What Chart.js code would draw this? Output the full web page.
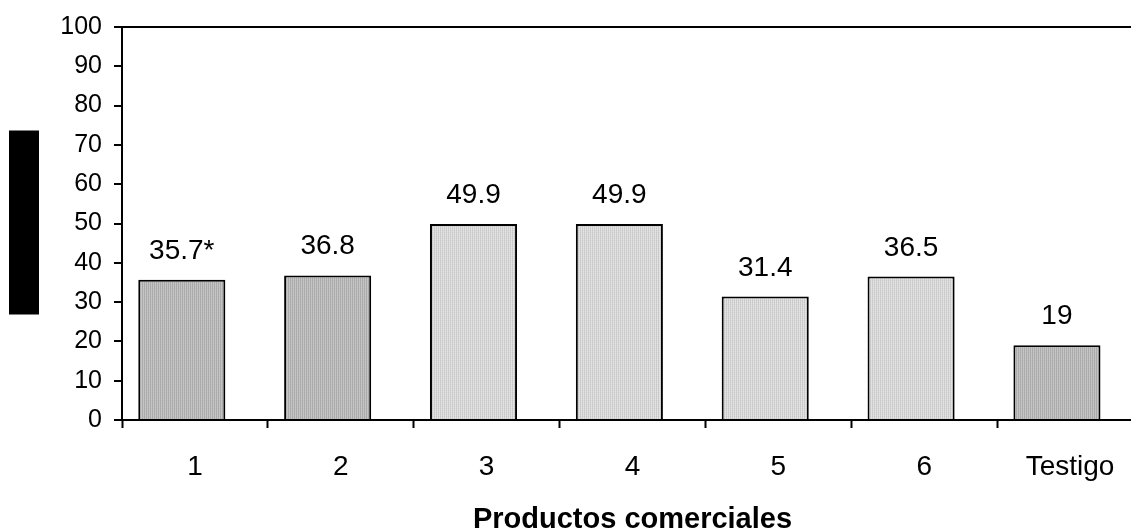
<!DOCTYPE html>
<html>
<head>
<meta charset="utf-8">
<script src="https://cdn.jsdelivr.net/npm/chart.js@4.4.1/dist/chart.umd.min.js"></script>
<style>
  html, body { margin: 0; padding: 0; background: #fff; overflow: hidden; }
</style>
</head>
<body>
<canvas id="grafico" width="1160" height="531"></canvas>
<script>
// productos evaluados y su valor
const categorias = ['1', '2', '3', '4', '5', '6', 'Testigo'];
const valores = [35.7, 36.8, 49.9, 49.9, 31.4, 36.5, 19];
const etiquetas = ['35.7*', '36.8', '49.9', '49.9', '31.4', '36.5', '19'];
const tonos = ['oscuro', 'oscuro', 'claro', 'claro', 'claro', 'claro', 'oscuro'];

const fuente = "'Liberation Sans', Arial, sans-serif";
const desfase = -0.09; // las barras quedan algo a la izquierda del centro

// trama de relleno de las barras
function trama(pix) {
	const c = document.createElement('canvas');
	c.width = pix[0].length;
	c.height = pix.length;
	const g = c.getContext('2d');
	pix.forEach((fila, y) => fila.forEach((col, x) => {
		g.fillStyle = col;
		g.fillRect(x, y, 1, 1);
	}));
	return g.createPattern(c, 'repeat');
}
const rellenos = {
	oscuro: trama([['#a9a9a9', '#c3c3c3'], ['#acacac', '#c6c6c6']]),
	claro: trama([['#c6c6c6', '#dedede'], ['#d0d0d0', '#e4e4e4']])
};

// etiqueta de valor sobre cada barra
const valoresSobreBarras = {
	id: 'valoresSobreBarras',
	afterDatasetsDraw(chart) {
		const ctx = chart.ctx;
		ctx.save();
		ctx.font = '28px ' + fuente;
		ctx.fillStyle = '#000';
		ctx.textAlign = 'center';
		ctx.textBaseline = 'alphabetic';
		chart.getDatasetMeta(0).data.forEach((barra, i) => {
			ctx.fillText(etiquetas[i], barra.x, barra.y - 21);
		});
		ctx.restore();
	}
};

// recuadro negro del titulo del eje Y
const cajaEjeY = {
	id: 'cajaEjeY',
	afterDraw(chart) {
		const a = chart.chartArea;
		const medio = (a.top + a.bottom) / 2;
		chart.ctx.save();
		chart.ctx.fillStyle = '#000';
		chart.ctx.fillRect(9, medio - 93, 30, 184);
		chart.ctx.restore();
	}
};

new Chart(document.getElementById('grafico'), {
	type: 'bar',
	data: {
		labels: categorias,
		datasets: [{
			data: valores.map((v, i) => ({ x: i + desfase, y: v })),
			xAxisID: 'xb',
			backgroundColor: ctx => rellenos[tonos[ctx.dataIndex]],
			borderColor: '#000',
			borderWidth: 2,
			borderSkipped: 'start',
			categoryPercentage: 1,
			barPercentage: 0.597
		}]
	},
	options: {
		responsive: false,
		animation: false,
		layout: { padding: { top: 23, right: 17, left: 0, bottom: 0 } },
		plugins: {
			legend: { display: false },
			tooltip: { enabled: false }
		},
		scales: {
			x: {
				type: 'category',
				offset: true,
				grid: {
					offset: true,
					drawOnChartArea: false,
					tickLength: 8,
					tickColor: '#000',
					tickWidth: 2
				},
				border: { color: '#000', width: 2 },
				ticks: {
					color: '#000',
					font: { family: fuente, size: 28 },
					padding: 22,
					maxRotation: 0,
					autoSkip: false
				},
				title: {
					display: true,
					text: 'Productos comerciales',
					color: '#000',
					font: { family: fuente, size: 29, weight: 'bold', lineHeight: 1 },
					padding: { top: 0, bottom: -3 }
				},
				afterFit(s) { s.height = 111; }
			},
			xb: {
				type: 'linear',
				display: false,
				offset: false,
				grid: { offset: false },
				min: -0.5,
				max: 6.5,
				afterBuildTicks(s) { s.ticks = categorias.map((_, i) => ({ value: i })); }
			},
			y: {
				min: 0,
				max: 100,
				ticks: {
					stepSize: 10,
					color: '#000',
					font: { family: fuente, size: 25 },
					padding: 12
				},
				grid: {
					color: ctx => ctx.tick && ctx.tick.value === 100 ? '#000' : 'rgba(0,0,0,0)',
					lineWidth: 2,
					tickColor: '#000',
					tickWidth: 2,
					tickLength: 8
				},
				border: { color: '#000', width: 2 },
				afterFit(s) { s.width = 122; }
			}
		}
	},
	plugins: [valoresSobreBarras, cajaEjeY]
});
</script>
</body>
</html>
